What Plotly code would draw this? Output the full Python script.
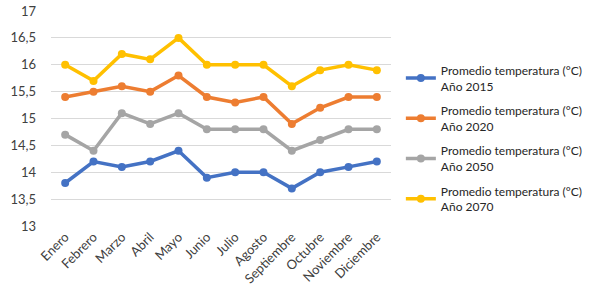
import plotly.graph_objects as go

months = ["Enero", "Febrero", "Marzo", "Abril", "Mayo", "Junio", "Julio",
          "Agosto", "Septiembre", "Octubre", "Noviembre", "Diciembre"]
t2015 = [13.8, 14.2, 14.1, 14.2, 14.4, 13.9, 14.0, 14.0, 13.7, 14.0, 14.1, 14.2]
t2020 = [15.4, 15.5, 15.6, 15.5, 15.8, 15.4, 15.3, 15.4, 14.9, 15.2, 15.4, 15.4]
t2050 = [14.7, 14.4, 15.1, 14.9, 15.1, 14.8, 14.8, 14.8, 14.4, 14.6, 14.8, 14.8]
t2070 = [16.0, 15.7, 16.2, 16.1, 16.5, 16.0, 16.0, 16.0, 15.6, 15.9, 16.0, 15.9]
names = ["Promedio temperatura (°C)<br>Año 2015", "Promedio temperatura (°C)<br>Año 2020",
         "Promedio temperatura (°C)<br>Año 2050", "Promedio temperatura (°C)<br>Año 2070"]
y_ticks = [13, 13.5, 14, 14.5, 15, 15.5, 16, 16.5, 17]

series = [t2015, t2020, t2050, t2070]
colors = ["#4472C4", "#ED7D31", "#A5A5A5", "#FFC000"]
font = "Lato, 'Open Sans', sans-serif"

fig = go.Figure()
for i, (vals, name, c) in enumerate(zip(series, names, colors)):
    fig.add_trace(go.Scatter(
        x=months, y=vals, name=name, mode="lines+markers",
        line=dict(color=c, width=3.5), marker=dict(color=c, size=8),
        legendgroup=f"g{i}",
    ))

fig.update_layout(
    width=595, height=291,
    margin=dict(l=51, r=204, t=11, b=65, autoexpand=False),
    paper_bgcolor="white", plot_bgcolor="white",
    separators=",.",
    font=dict(family=font, size=12, color="#404040"),
    showlegend=True,
    legend=dict(x=1.029, y=0.791, xanchor="left", yanchor="top", maxheight=1,
                font=dict(family=font, size=12, color="#262626"),
                tracegroupgap=6, traceorder="grouped", itemwidth=30,
                bgcolor="rgba(0,0,0,0)"),
    xaxis=dict(tickangle=-45, showgrid=False, showline=False, automargin=False,
               tickfont=dict(family=font, size=13, color="#404040"),
               range=[-0.5, 11.5]),
    yaxis=dict(range=[13, 17], tickvals=y_ticks, showgrid=True, automargin=False,
               gridcolor="#D9D9D9", gridwidth=1, zeroline=False,
               tickfont=dict(family=font, size=13, color="#404040"),
               ticks="", ticklabelstandoff=14),
)

fig.write_html("out.html", config={"displayModeBar": False},
               post_script="document.body.style.margin='0';document.body.style.overflow='hidden';")
